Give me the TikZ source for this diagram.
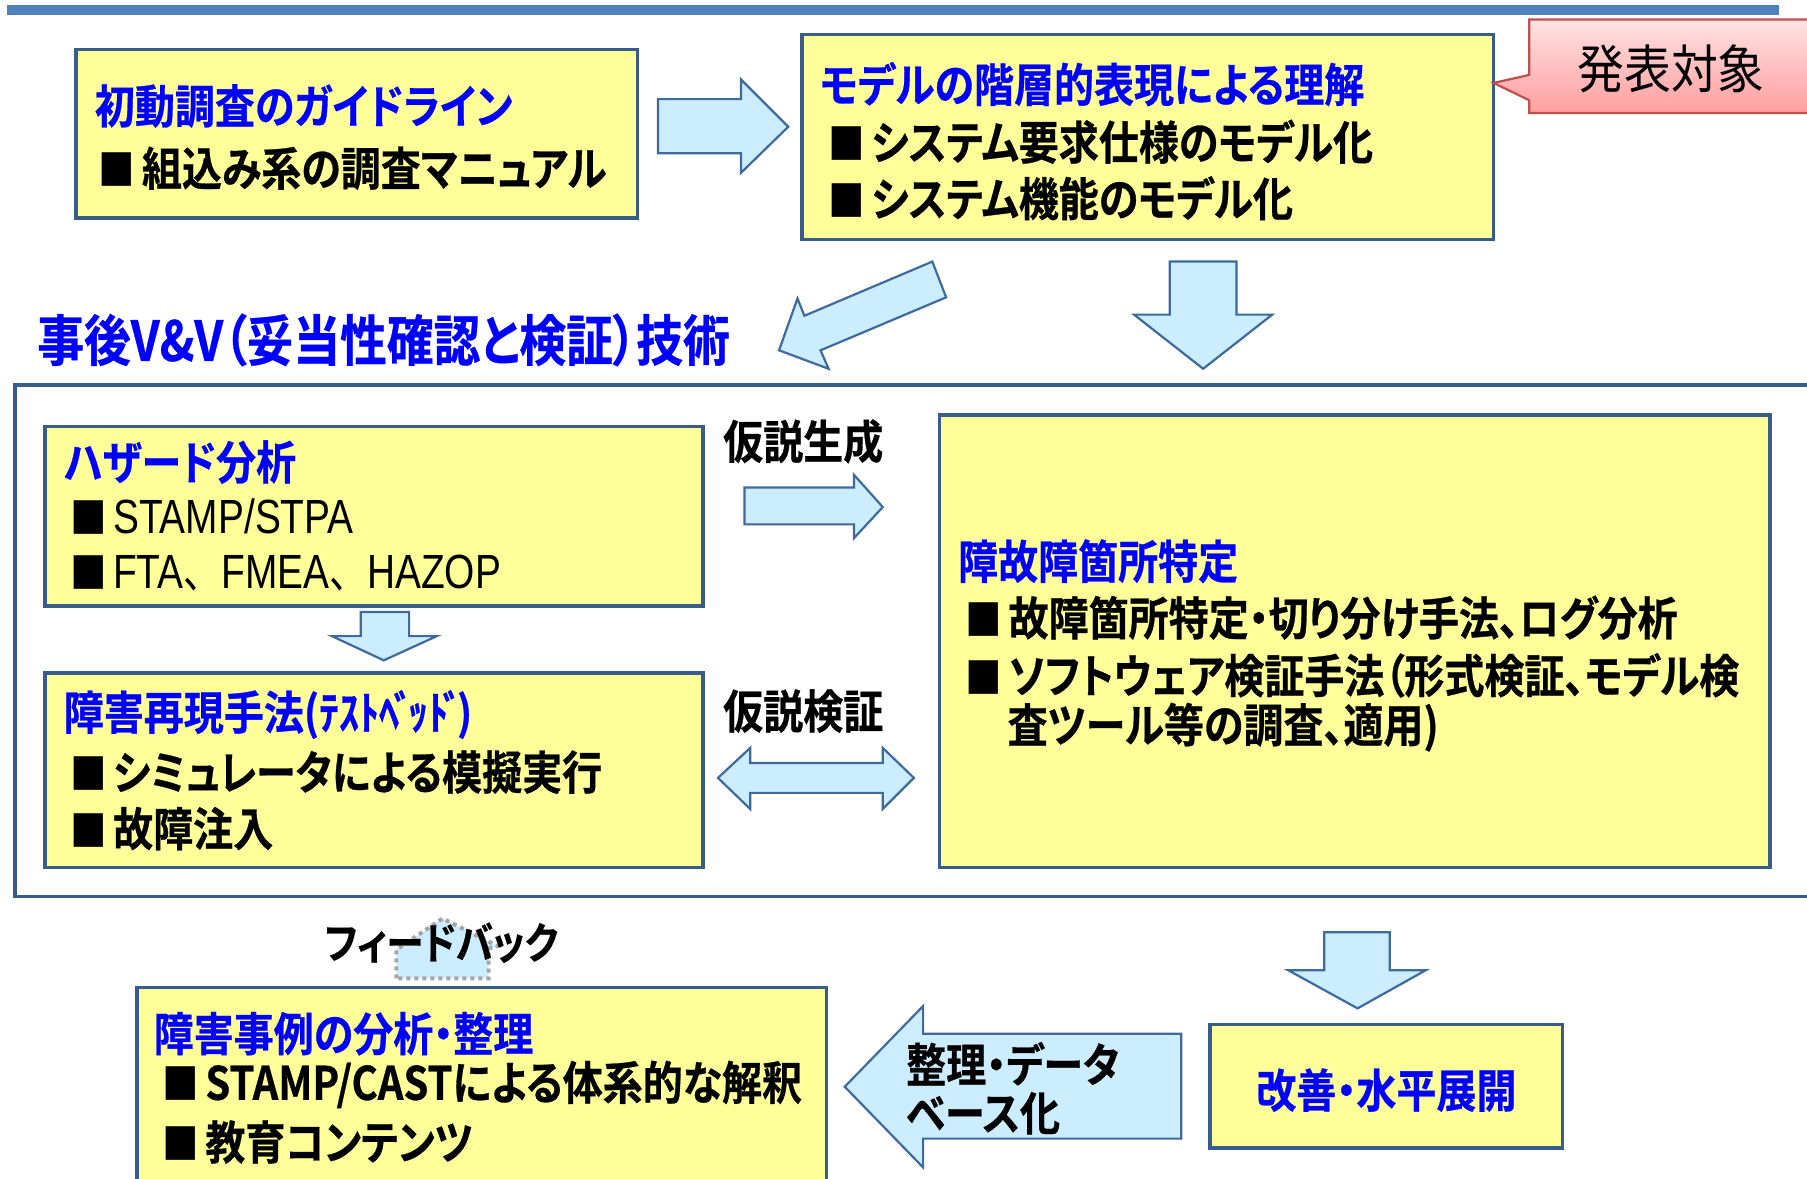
\documentclass[tikz,border=0pt]{standalone}
\usepackage{fontspec}
\usetikzlibrary{fit}
\newfontfamily\jpb{Noto Sans CJK JP Bold}[RawFeature=+palt, FakeStretch=0.87, FakeBold=0.6]
\newfontfamily\jpbn{Noto Sans CJK JP Bold}[FakeStretch=0.87]
\newfontfamily\jpr{Noto Sans CJK JP}[RawFeature=+palt, FakeStretch=0.9]
\newfontfamily\jprn{Noto Sans CJK JP}[FakeStretch=0.82]
\newfontfamily\lat{Liberation Sans}[FakeStretch=0.81]
\definecolor{yel}{HTML}{FFFF99}
\definecolor{boxb}{HTML}{385D8A}
\definecolor{arrf}{HTML}{CCECFF}
\definecolor{arrb}{HTML}{3E6A9C}
\definecolor{tblue}{HTML}{0000FF}
\definecolor{barc}{HTML}{4F81BD}
\definecolor{pinkt}{HTML}{FFE2E2}
\definecolor{pinkb}{HTML}{FF9E9E}
\definecolor{pinkd}{HTML}{C0504D}
\newcommand\bul{\hspace*{-2pt}\makebox[21.5pt][l]{\jpbn\fontsize{21pt}{21pt}\selectfont ■}}
\newcommand\dk{\kern-0.12em ﾞ\kern-0.12em}
\tikzset{
  box/.style={draw=boxb, line width=1.7pt, fill=yel, inner sep=0pt},
  blk/.style={draw=arrb, line width=1.1pt, fill=arrf, line join=miter},
  ttl/.style={anchor=west, inner sep=0pt, text=tblue, font=\jpb\fontsize{23pt}{26pt}\selectfont},
  itm/.style={anchor=west, inner sep=0pt, font=\jpb\fontsize{23pt}{26pt}\selectfont},
  lbl/.style={inner sep=0pt, font=\jpb\fontsize{23pt}{26pt}\selectfont},
}
\begin{document}
\begin{tikzpicture}[x=0.5762pt, y=-0.5762pt]
\useasboundingbox (0,0) rectangle (1568,1023);
\fill[white] (0,0) rectangle (1568,1023);
% top bar
\fill[barc] (6,4) rectangle (1544,13);
% boxes
\node[box, fit={(66,43) (553,189)}] (A) {};
\node[box, fit={(696,30) (1296,208)}] (B) {};
\node[draw=boxb, line width=1.7pt, fill=white, inner sep=0pt, fit={(13,334) (1590,778)}] (F0) {};
\node[box, fit={(39,370) (610,526)}] (C) {};
\node[box, fit={(39,584) (610,753)}] (D) {};
\node[box, fit={(815,360) (1536,753)}] (E) {};
\node[box, fit={(1050,889) (1356,996)}] (F) {};
\node[box, fit={(119,857) (717,1040)}] (G) {};
% callout
\draw[draw=pinkd, line width=1.1pt, top color=pinkt, bottom color=pinkb]
  (1327,17) -- (1590,17) -- (1590,98) -- (1327,98) -- (1327,87) -- (1296,72) -- (1327,65) -- cycle;
\node[inner sep=0pt, font=\jpr\fontsize{26pt}{28pt}\selectfont] (call) at (1450,60) {発表対象};
% block arrows
\draw[blk] (571,86) -- (643,86) -- (643,69) -- (684,110) -- (643,150) -- (643,133) -- (571,133) -- cycle;
\draw[blk] (809,227) -- (698,274) -- (692,259) -- (676,304) -- (719,320) -- (712,304) -- (821,258) -- cycle;
\draw[blk] (1015,227) -- (1073,227) -- (1073,273) -- (1104,273) -- (1044,320) -- (984,273) -- (1015,273) -- cycle;
\draw[blk] (313,531) -- (355,531) -- (355,552) -- (379,552) -- (333,573) -- (288,552) -- (313,552) -- cycle;
\draw[blk] (646,423) -- (741,423) -- (741,412) -- (766,440) -- (741,467) -- (741,455) -- (646,455) -- cycle;
\draw[blk] (623,675) -- (651,649) -- (651,662) -- (766,662) -- (766,649) -- (793,675) -- (766,702) -- (766,688) -- (651,688) -- (651,702) -- cycle;
\draw[blk] (1149,809) -- (1206,809) -- (1206,842) -- (1237,842) -- (1178,875) -- (1118,842) -- (1149,842) -- cycle;
\draw[blk] (733,943) -- (801,873) -- (801,897) -- (1025,897) -- (1025,988) -- (801,988) -- (801,1013) -- cycle;
% feedback dotted shape
\draw[gray!70, dotted, line width=2pt, fill=arrf] (344,849) -- (344,824) -- (384,797) -- (432,821) -- (424,823) -- (424,849) -- cycle;
% texts
\node[ttl] (At) at (82,92) {初動調査のガイドライン};
\node[itm] (A1) at (89,146) {\bul 組込み系の調査マニュアル};
\node[ttl] (Bt) at (711,73) {モデルの階層的表現による理解};
\node[itm] (B1) at (722,123) {\bul システム要求仕様のモデル化};
\node[itm] (B2) at (722,172) {\bul システム機能のモデル化};
\node[ttl, font=\jpb\fontsize{27.5pt}{30pt}\selectfont] (VV) at (32,295) {\addfontfeature{FakeStretch=0.85}事後V\&V（妥当性確認と検証）技術};
\node[ttl] (Ct) at (55,401) {ハザード分析};
\node[itm] (C1) at (64,448) {\bul{\lat\fontsize{24pt}{26pt}\selectfont STAMP/STPA}};
\node[itm] (C2) at (64,497) {\bul{\lat\fontsize{24pt}{26pt}\selectfont FTA}{\jprn\fontsize{23pt}{26pt}\selectfont 、}{\lat\fontsize{24pt}{26pt}\selectfont FMEA}{\jprn\fontsize{23pt}{26pt}\selectfont 、}{\lat\fontsize{24pt}{26pt}\selectfont HAZOP}};
\node[ttl] (Dt) at (55,620) {障害再現手法(ﾃｽﾄﾍ\dk ｯﾄ\dk )};
\node[itm] (D1) at (64,670) {\bul シミュレータによる模擬実行};
\node[itm] (D2) at (64,719) {\bul 故障注入};
\node[lbl] (L1) at (697,383) {仮説生成};
\node[lbl] (L2) at (697,617) {仮説検証};
\node[ttl] (Et) at (831,487) {障故障箇所特定};
\node[itm] (E1) at (841,536) {\bul 故障箇所特定・切り分け手法、ログ分析};
\node[itm] (E2) at (841,586) {\bul ソフトウェア検証手法（形式検証、モデル検};
\node[itm] (E3) at (874,631) {査ツール等の調査、適用)};
\node[lbl, font=\jpb\fontsize{21.5pt}{24pt}\selectfont] (FB) at (383,818) {フィードバック};
\node[ttl] (Gt) at (133,897) {障害事例の分析・整理};
\node[itm] (G1) at (144,941) {\bul STAMP/CASTによる体系的な解釈};
\node[itm] (G2) at (144,991) {\bul 教育コンテンツ};
\node[ttl, anchor=center] (Ft) at (1203,946) {改善・水平展開};
\node[itm] (H1) at (786,923) {整理・データ};
\node[itm] (H2) at (786,966) {ベース化};
\end{tikzpicture}
\end{document}
